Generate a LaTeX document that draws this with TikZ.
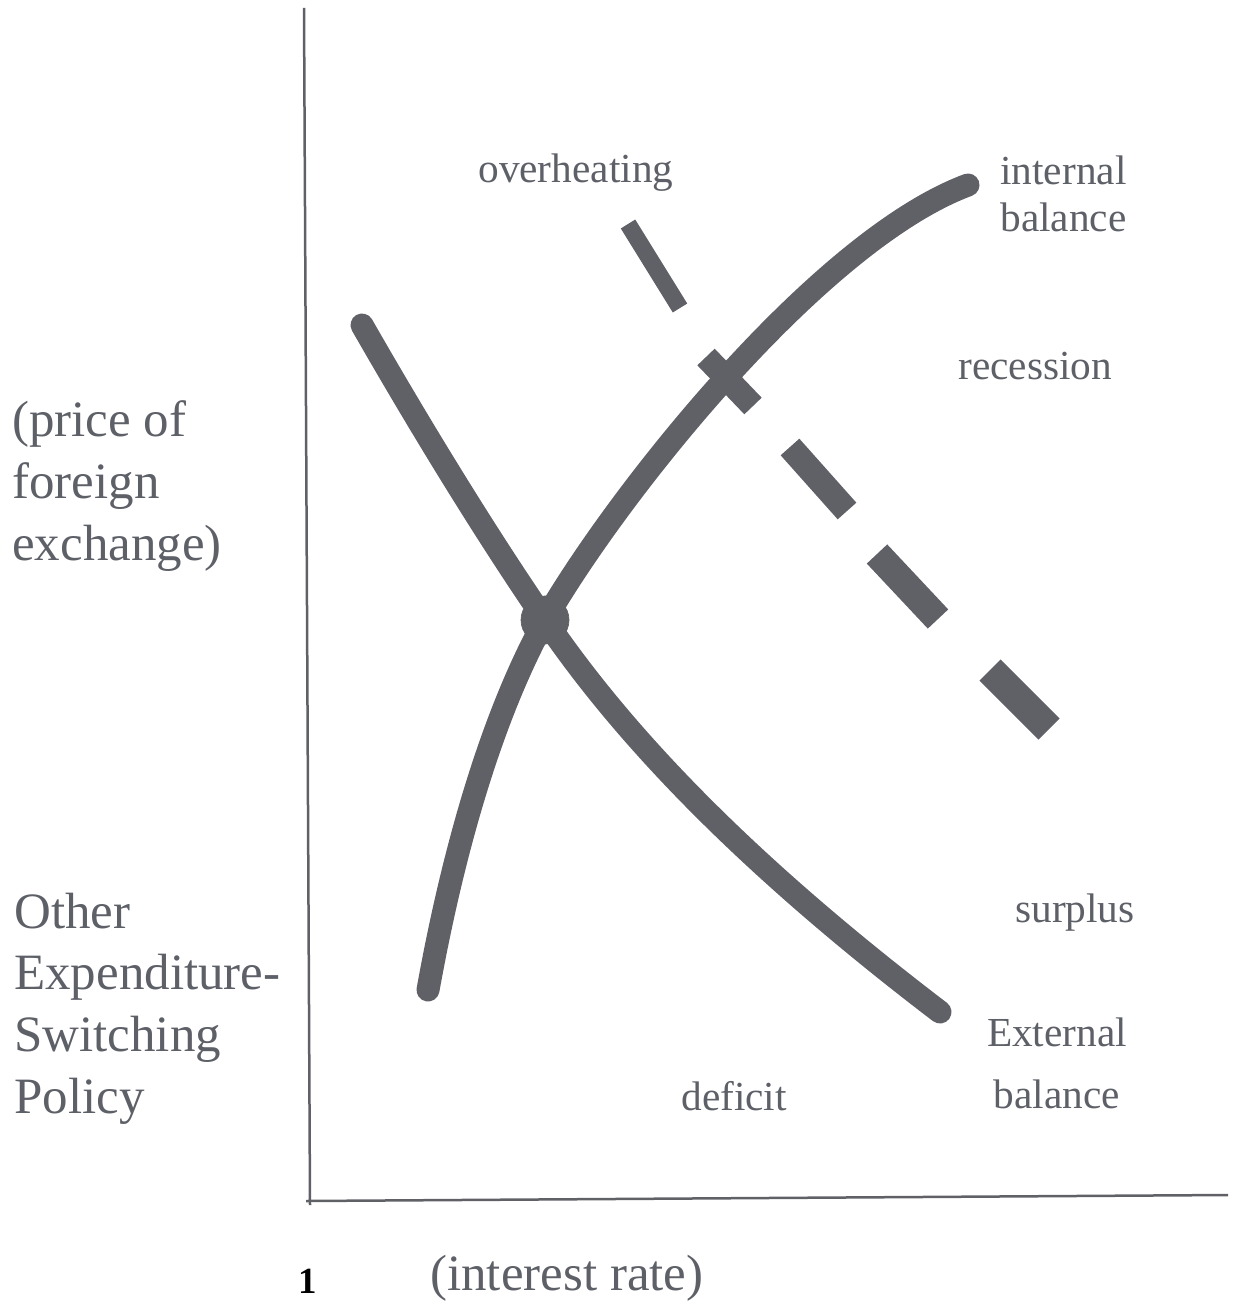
\documentclass[tikz,border=0pt]{standalone}
\usepackage{fontspec}
\setmainfont{Liberation Serif}
\definecolor{inkgray}{HTML}{606167}
\definecolor{textgray}{HTML}{5E6068}

\begin{document}
\begin{tikzpicture}[x=0.2mm,y=-0.2mm,
  schedule/.style={draw=inkgray,line width=4.6mm,line cap=round},
  dashpiece/.style={draw=inkgray,line cap=butt},
  biglabel/.style={text=textgray,inner sep=0pt,align=left,font=\fontsize{29}{35}\selectfont},
  smalllabel/.style={text=textgray,inner sep=0pt,font=\fontsize{23.5}{27}\selectfont}]
\useasboundingbox (0,0) rectangle (1233,1304);

% Draw the axes
\draw[inkgray,line width=0.5mm] (304,8) -- (310,1205);
\draw[inkgray,line width=0.5mm] (306,1201) -- (1228,1195);

% Draw the external balance and internal balance schedules
\coordinate (eq) at (545,620);
\draw[schedule] (362,325) .. controls (425,435) and (490,540) .. (eq)
  .. controls (640,760) and (780,890) .. (940,1012);
\draw[schedule] (428,990) .. controls (455,840) and (495,710) .. (eq)
  .. controls (620,490) and (820,240) .. (968,185);
\filldraw[inkgray] (eq) circle (24);

% Draw the dashed line, piece by piece
\draw[dashpiece,line width=3.4mm] (628,224) -- (680,308);
\draw[dashpiece,line width=4.8mm] (706,357) -- (753,406);
\draw[dashpiece,line width=5mm] (790,447) -- (847,511);
\draw[dashpiece,line width=5.6mm] (877,554) -- (938,619);
\draw[dashpiece,line width=6mm] (990,670) -- (1049,729);

% Label the regions
\node[smalllabel,anchor=base west] (overheat) at (478,183) {overheating};
\node[smalllabel,anchor=base west] (recess) at (958,380) {recession};
\node[smalllabel,anchor=base west] (surplus) at (1015,922) {surplus};
\node[smalllabel,anchor=base west] (deficit) at (681,1110) {deficit};
\node[smalllabel,align=left,anchor=base west] (intbal) at (1000,232) {internal\\balance};
\node[smalllabel,align=center,anchor=base,font=\fontsize{23.5}{35}\selectfont] (extbal) at (1057,1108) {External\\balance};

% Label the axes
\node[biglabel,anchor=base west] (ylabel) at (12,560) {(price of\\foreign\\exchange)};
\node[biglabel,anchor=base west] (policy) at (14,1113) {Other\\Expenditure-\\Switching\\Policy};
\node[biglabel,anchor=base west] (xlabel) at (430,1290) {(interest rate)};
\node[anchor=base west,inner sep=0pt,font=\fontsize{21}{21}\selectfont\bfseries] (pagenum) at (298,1293) {1};
\end{tikzpicture}
\end{document}
